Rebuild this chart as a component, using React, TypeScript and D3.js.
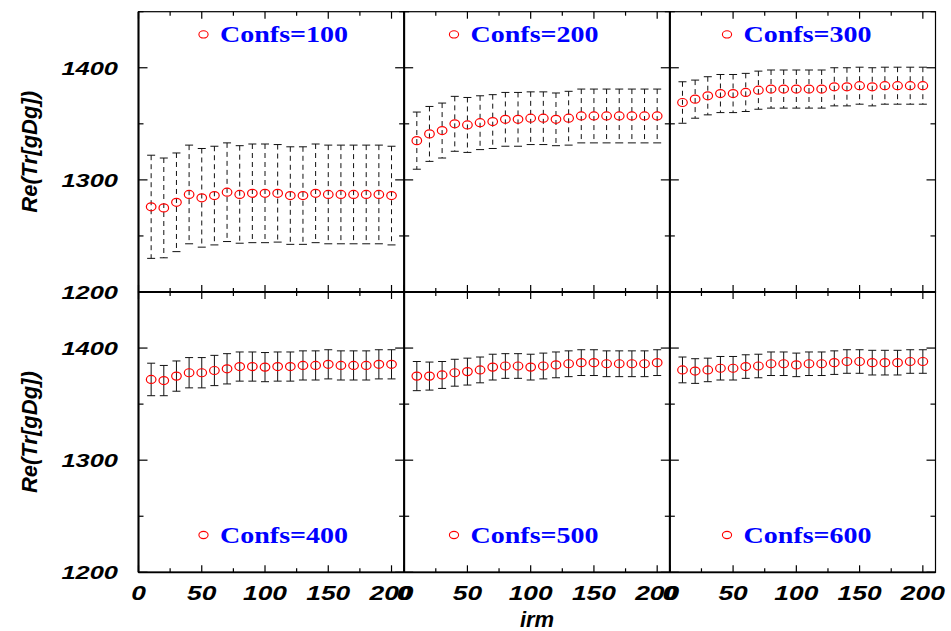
import React from "react";
import * as d3 from "d3";

const irm = [10, 20, 30, 40, 50, 60, 70, 80, 90, 100, 110, 120, 130, 140, 150, 160, 170, 180, 190, 200];

const confs100 = [1276, 1275, 1280, 1287, 1284, 1286, 1289, 1287, 1288, 1288, 1288, 1286, 1286, 1288, 1287, 1287, 1287, 1287, 1287, 1286];
const confs100Err = [46, 44.5, 44, 44, 44, 44, 44, 43.5, 44, 44, 43.5, 43.5, 43.5, 44, 44, 44, 44, 44, 44, 44];
const confs200 = [1335, 1341, 1344, 1350, 1349, 1351, 1352, 1354, 1354, 1355, 1355, 1354, 1355, 1357, 1357, 1357, 1357, 1357, 1357, 1357];
const confs200Err = [25.5, 24.5, 24.5, 24.5, 24.5, 24, 24, 24, 24, 23.5, 23.5, 23.5, 24, 24, 24, 24, 24, 24, 24, 24];
const confs300 = [1369, 1372, 1375, 1377, 1377, 1378, 1380, 1381, 1381, 1381, 1381, 1381, 1383, 1383, 1384, 1383, 1384, 1384, 1384, 1384];
const confs300Err = [18.5, 17, 17, 17, 17, 17, 17, 17, 17, 17, 17, 17, 17, 17, 16.5, 17, 16.5, 16.5, 16.5, 16.5];
const confs400 = [1372, 1371, 1375, 1378, 1378, 1380, 1381.5, 1383.5, 1383.5, 1383, 1383.5, 1383.5, 1384.5, 1384.5, 1385.5, 1384.5, 1384.5, 1384.5, 1385.5, 1385.5];
const confs400Err = [14.5, 13.5, 13.5, 13.5, 13.5, 13.5, 13.5, 13, 13, 13, 13, 13, 13, 13, 13, 13, 13, 13, 13, 13];
const confs500 = [1375, 1375, 1376, 1378, 1379, 1380.5, 1383, 1384, 1384, 1383, 1384, 1385, 1386, 1387, 1387, 1386, 1386, 1386, 1386, 1387];
const confs500Err = [13, 12.5, 12, 12, 12, 11.5, 11.5, 11, 11, 11.5, 11.5, 11.5, 11.5, 11.5, 11.5, 11.5, 11.5, 11.5, 11.5, 11.5];
const confs600 = [1380.5, 1379.5, 1380.5, 1382, 1382, 1383.5, 1384, 1386, 1386, 1385, 1386, 1386, 1387, 1388, 1388, 1387, 1387, 1387, 1388, 1388];
const confs600Err = [11.5, 11, 10.5, 10.5, 10.5, 10.5, 10.5, 10.5, 10.5, 10.5, 10.5, 10.5, 10.5, 10.5, 10.5, 11, 11, 11, 10.5, 10.5];

const panelLabels = ["Confs=100", "Confs=200", "Confs=300", "Confs=400", "Confs=500", "Confs=600"];
const panelMeans = [confs100, confs200, confs300, confs400, confs500, confs600];
const panelErrs = [confs100Err, confs200Err, confs300Err, confs400Err, confs500Err, confs600Err];

const xTicks = [0, 25, 50, 75, 100, 125, 150, 175, 200];
const xTickLabels = [0, 50, 100, 150, 200];
const yTicks = [1200, 1250, 1300, 1350, 1400, 1450];
const yTickLabels = [1200, 1300, 1400];

const W = 951;
const H = 631;
const left = 138.5;
const right = 935.5;
const top = 11.7;
const bottom = 572.3;
const pw = (right - left) / 3;
const ph = (bottom - top) / 2;
const legendX = [203.5, 454, 727];

export default function App() {
  const numFont = "'Liberation Sans', Arial, Helvetica, sans-serif";
  const panels = panelLabels.map((label, i) => {
    const col = i % 3;
    const row = Math.floor(i / 3);
    const x0 = left + col * pw;
    const y0 = top + row * ph;
    const x = d3.scaleLinear().domain([0, 210]).range([x0, x0 + pw]);
    const y = d3.scaleLinear().domain([1200, 1450]).range([y0 + ph, y0]);
    const means = panelMeans[i];
    const errs = panelErrs[i];
    const dashed = row === 0 ? "5,4" : undefined;
    const legY = row === 0 ? y0 + 30.5 : y0 + ph - 29.5;
    return (
      <g key={label}>
        <rect x={x0} y={y0} width={pw} height={ph} fill="none" stroke="#000" strokeWidth={1.2} />
        <line x1={x0} x2={x0} y1={y0} y2={y0 + ph} stroke="#000" strokeWidth={2} />
        <line x1={x0} x2={x0 + pw} y1={y0 + ph} y2={y0 + ph} stroke="#000" strokeWidth={1.8} />
        {xTicks.map((t) => {
          const len = t % 50 === 0 ? 7 : 4;
          return (
            <g key={"xt" + t}>
              <line x1={x(t)} x2={x(t)} y1={y0 + ph} y2={y0 + ph - len} stroke="#000" strokeWidth={1.2} />
              <line x1={x(t)} x2={x(t)} y1={y0} y2={y0 + len} stroke="#000" strokeWidth={1.2} />
            </g>
          );
        })}
        {yTicks.map((t) => {
          const len = t % 100 === 0 ? 9 : 5;
          return (
            <g key={"yt" + t}>
              <line x1={x0} x2={x0 + len} y1={y(t)} y2={y(t)} stroke="#000" strokeWidth={1.2} />
              <line x1={x0 + pw} x2={x0 + pw - len} y1={y(t)} y2={y(t)} stroke="#000" strokeWidth={1.2} />
            </g>
          );
        })}
        {irm.map((v, k) => {
          const cx = x(v);
          const yt = y(means[k] + errs[k]);
          const yb = y(means[k] - errs[k]);
          return (
            <g key={"e" + k} stroke="#111" strokeWidth={1}>
              <line x1={cx} x2={cx} y1={yt} y2={yb} strokeDasharray={dashed} />
              <line x1={cx - 4} x2={cx + 4} y1={yt} y2={yt} />
              <line x1={cx - 4} x2={cx + 4} y1={yb} y2={yb} />
            </g>
          );
        })}
        {irm.map((v, k) => (
          <ellipse key={"p" + k} cx={x(v)} cy={y(means[k])} rx={4.8} ry={4} fill="none" stroke="#ff0000" strokeWidth={1.2} />
        ))}
        <ellipse cx={legendX[col]} cy={legY - 7.8} rx={4.6} ry={3.6} fill="none" stroke="#ff0000" strokeWidth={1.1} />
        <text
          x={legendX[col] + 16.5}
          y={legY}
          fontFamily="'Liberation Serif', 'Times New Roman', serif"
          fontWeight="bold"
          fontSize={23}
          fill="#0000ff"
          textLength={128}
          lengthAdjust="spacingAndGlyphs"
        >
          {label}
        </text>
        {row === 1 &&
          xTickLabels.map((t) => (
            <text
              key={"xl" + t}
              transform={`translate(${x(t)},${600}) scale(1.32,1)`}
              textAnchor="middle"
              fontFamily={numFont}
              fontWeight="bold"
              fontStyle="italic"
              fontSize={20}
              fill="#000"
            >
              {t}
            </text>
          ))}
        {col === 0 &&
          yTickLabels.map((t) => (
            <text
              key={"yl" + t}
              transform={`translate(${118},${y(t) + 7}) scale(1.34,1)`}
              textAnchor="end"
              fontFamily={numFont}
              fontWeight="bold"
              fontStyle="italic"
              fontSize={19}
              fill="#000"
            >
              {t}
            </text>
          ))}
        {col === 0 && (
          <text
            transform={`translate(${37},${y0 + ph / 2}) rotate(-90)`}
            textAnchor="middle"
            fontFamily={numFont}
            fontWeight="bold"
            fontStyle="italic"
            fontSize={22}
            fill="#000"
          >
            Re(Tr[gDg])
          </text>
        )}
      </g>
    );
  });

  return (
    <svg width={W} height={H} style={{ position: "absolute", left: 0, top: 0, background: "#fff" }}>
      <rect x={0} y={0} width={W} height={H} fill="#fff" />
      {panels}
      <text
        x={left + pw * 1.5}
        y={627}
        textAnchor="middle"
        fontFamily={numFont}
        fontWeight="bold"
        fontStyle="italic"
        fontSize={22}
        fill="#000"
      >
        irm
      </text>
    </svg>
  );
}
